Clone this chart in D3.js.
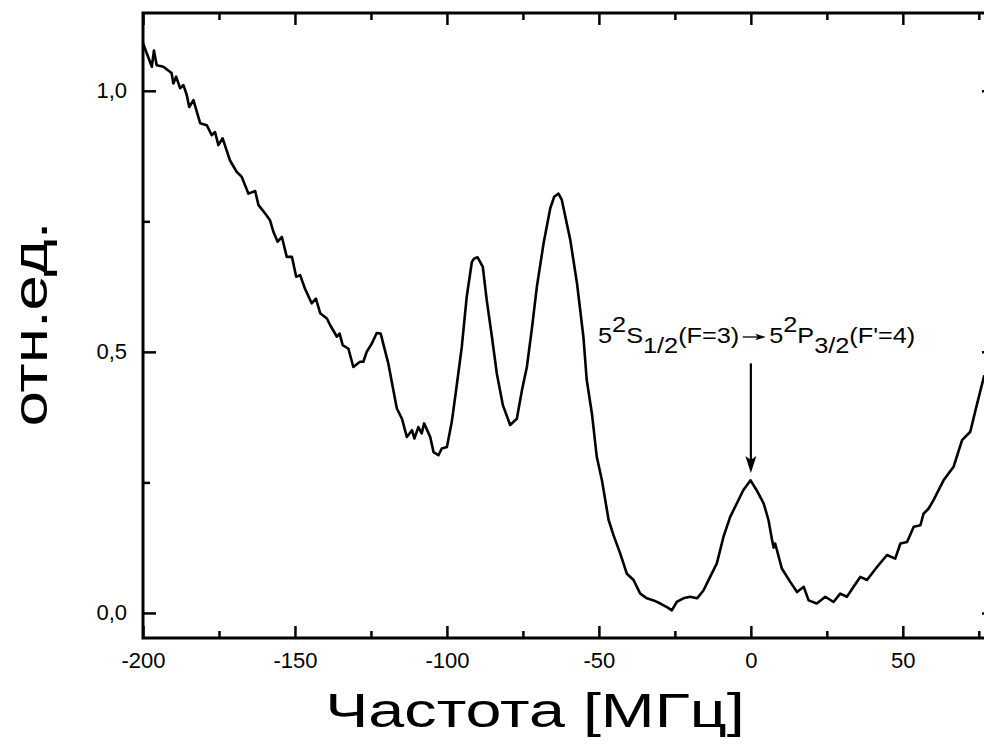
<!DOCTYPE html>
<html><head><meta charset="utf-8">
<script src="https://cdn.jsdelivr.net/npm/d3@7"></script>
<style>
html,body{margin:0;padding:0;background:#fff;overflow:hidden;}
svg{display:block;}
text{font-family:Arial,"Liberation Sans",sans-serif;fill:#000;}
</style></head>
<body>
<svg id="chart" width="984" height="747"></svg>
<script>
// ---- data ----
const freq = [-200,-197.1,-196.4,-195.5,-193.3,-190.6,-190,-189.1,-187.8,-186.7,-185.6,-184.8,-183.4,-181.2,-179,-177.4,-176.3,-175.2,-173.8,-171.4,-169.2,-167.5,-165.3,-163.1,-162,-159.8,-158.2,-157.1,-155.7,-154.3,-152.7,-151,-149.6,-148.3,-146.7,-144.5,-143.1,-141.7,-139.5,-138.4,-136.2,-135.3,-134.3,-132.4,-130.8,-128.6,-127.5,-126.4,-124.7,-123.1,-121.8,-119.3,-116.5,-114.8,-113.2,-111.5,-110.7,-109.4,-108.3,-107.5,-105.5,-104.4,-102.8,-101.7,-100.0,-98.4,-96.7,-95.1,-93.5,-91.8,-91.0,-89.9,-88.2,-86.9,-85.2,-83.6,-81.6,-79.2,-77.0,-75.3,-73.7,-72.1,-70.4,-68.2,-66.0,-64.7,-63.3,-62.2,-59.4,-57.2,-55.1,-54.0,-52.3,-50.7,-49.0,-46.8,-45.2,-43.0,-40.8,-38.6,-36.4,-34.2,-32.0,-29.8,-27.6,-26.0,-24.4,-22.2,-20.0,-17.7,-15.6,-13.4,-11.2,-9.0,-6.8,-4.6,-2.5,-0.1,1.9,4.2,5.8,7.0,7.5,8.0,10.2,13.0,15.2,17.4,19.0,21.7,24.5,27.2,29.4,31.6,33.8,36.0,38.2,41.5,44.8,47.5,49.2,51.4,53.6,55.8,56.8,58.5,60.1,63.4,66.7,69.5,72.2,73.9,76.8];
const signal = [1.091,1.046,1.077,1.049,1.046,1.034,1.014,1.027,1.005,1.011,0.992,0.969,0.982,0.938,0.934,0.915,0.921,0.896,0.909,0.867,0.845,0.835,0.803,0.808,0.781,0.765,0.752,0.730,0.711,0.720,0.682,0.682,0.644,0.647,0.621,0.593,0.602,0.574,0.564,0.551,0.529,0.535,0.513,0.506,0.471,0.481,0.481,0.500,0.516,0.536,0.535,0.478,0.392,0.372,0.337,0.350,0.334,0.356,0.344,0.363,0.337,0.308,0.302,0.315,0.318,0.366,0.439,0.510,0.605,0.672,0.679,0.681,0.663,0.599,0.529,0.459,0.398,0.360,0.372,0.427,0.471,0.542,0.625,0.708,0.775,0.797,0.803,0.791,0.714,0.631,0.529,0.446,0.382,0.299,0.254,0.178,0.149,0.114,0.075,0.063,0.037,0.028,0.024,0.018,0.011,0.005,0.021,0.028,0.031,0.028,0.043,0.069,0.095,0.146,0.184,0.210,0.235,0.254,0.235,0.210,0.178,0.139,0.125,0.133,0.085,0.059,0.040,0.050,0.024,0.018,0.031,0.021,0.037,0.031,0.050,0.069,0.063,0.088,0.111,0.104,0.133,0.136,0.165,0.168,0.190,0.200,0.216,0.254,0.280,0.331,0.347,0.388,0.455];
const xMajorTicks = [-200,-150,-100,-50,0,50];
const xMinorTicks = [-175,-125,-75,-25,25,75];
const yMajorTicks = [0,0.5,1.0];
const yMinorTicks = [0.25,0.75];
const xTitle = "Частота [МГц]";
const yTitle = "отн.ед.";
const arrowX = 0, arrowTop = 0.478, arrowTip = 0.268;

// ---- layout ----
const svg = d3.select("#chart");
const L = 143, R = 994, T = 13, B = 638;
const x = d3.scaleLinear().domain([-200, 80]).range([L, R]);
const y = d3.scaleLinear().domain([-0.048, 1.149]).range([B, T]);
const fmtY = d => d.toFixed(1).replace(".", ",");
const fmtX = d => String(d);

function axisGroup(gen, tx, ty) {
  const g = svg.append("g").attr("transform", `translate(${tx},${ty})`).call(gen);
  g.select(".domain").remove();
  g.selectAll(".tick line").attr("stroke", "#000").attr("stroke-width", 2.5);
  g.selectAll("text").style("font-size", "22px").style("font-family", "Arial, 'Liberation Sans', sans-serif");
  return g;
}
// bottom
axisGroup(d3.axisBottom(x).tickValues(xMajorTicks).tickSize(-12).tickPadding(14).tickFormat(fmtX), 0, B);
axisGroup(d3.axisBottom(x).tickValues(xMinorTicks).tickSize(-7).tickFormat(""), 0, B);
// top
axisGroup(d3.axisTop(x).tickValues(xMajorTicks).tickSize(-12).tickFormat(""), 0, T);
axisGroup(d3.axisTop(x).tickValues(xMinorTicks).tickSize(-7).tickFormat(""), 0, T);
// left
axisGroup(d3.axisLeft(y).tickValues(yMajorTicks).tickSize(-13).tickPadding(16).tickFormat(fmtY), L, 0);
axisGroup(d3.axisLeft(y).tickValues(yMinorTicks).tickSize(-7).tickFormat(""), L, 0);
// right
axisGroup(d3.axisRight(y).tickValues(yMajorTicks).tickSize(-12).tickFormat(""), R, 0);
axisGroup(d3.axisRight(y).tickValues(yMinorTicks).tickSize(-7).tickFormat(""), R, 0);

// frame
svg.append("rect").attr("x", L).attr("y", T).attr("width", R - L).attr("height", B - T)
  .attr("fill", "none").attr("stroke", "#000").attr("stroke-width", 3);

// curve
const pts = freq.map((f, i) => [f, signal[i]]);
svg.append("path").datum(pts)
  .attr("fill", "none").attr("stroke", "#000").attr("stroke-width", 2.6).attr("stroke-linejoin", "round")
  .attr("d", d3.line().x(d => x(d[0])).y(d => y(d[1])));

// arrow annotation
const ax = x(arrowX), ay0 = y(arrowTop), ay1 = y(arrowTip);
svg.append("line").attr("x1", ax).attr("x2", ax).attr("y1", ay0).attr("y2", ay1 - 10)
  .attr("stroke", "#000").attr("stroke-width", 2.2);
svg.append("path").attr("d", `M${ax},${ay1} L${ax-5.5},${ay1-17} L${ax},${ay1-13} L${ax+5.5},${ay1-17} Z`).attr("fill", "#000");

// label (horizontally stretched like the original)
const lg = svg.append("g").attr("transform", "translate(598,343) scale(1.15,1)");
const lbl = lg.append("text").attr("x", 0).attr("y", 0).style("font-size", "22px");
lbl.append("tspan").text("5");
lbl.append("tspan").attr("dy", -11).text("2");
lbl.append("tspan").attr("dy", 11).text("S");
lbl.append("tspan").attr("dy", 10).text("1/2");
lbl.append("tspan").attr("dy", -10).text("(F=3)");
const bb = lbl.node().getBBox();
const arX0 = bb.x + bb.width + 3, arX1 = arX0 + 20, arY = -6;
lg.append("line").attr("x1", arX0).attr("x2", arX1 - 6).attr("y1", arY).attr("y2", arY).attr("stroke", "#000").attr("stroke-width", 1.3);
lg.append("path").attr("d", `M${arX1},${arY} L${arX1-9},${arY-3.2} L${arX1-7},${arY} L${arX1-9},${arY+3.2} Z`).attr("fill", "#000");
const lbl2 = lg.append("text").attr("x", arX1 + 3).attr("y", 0).style("font-size", "22px");
lbl2.append("tspan").text("5");
lbl2.append("tspan").attr("dy", -11).text("2");
lbl2.append("tspan").attr("dy", 11).text("P");
lbl2.append("tspan").attr("dy", 10).text("3/2");
lbl2.append("tspan").attr("dy", -10).text("(F'=4)");

// axis titles
svg.append("text").attr("transform", "translate(535,727) scale(1.32,1)").attr("text-anchor", "middle")
  .style("font-size", "49px").text(xTitle);
svg.append("text").attr("transform", "translate(47,324) rotate(-90) scale(1.3,1)").attr("text-anchor", "middle")
  .style("font-size", "49px").text(yTitle);
</script>
</body></html>
